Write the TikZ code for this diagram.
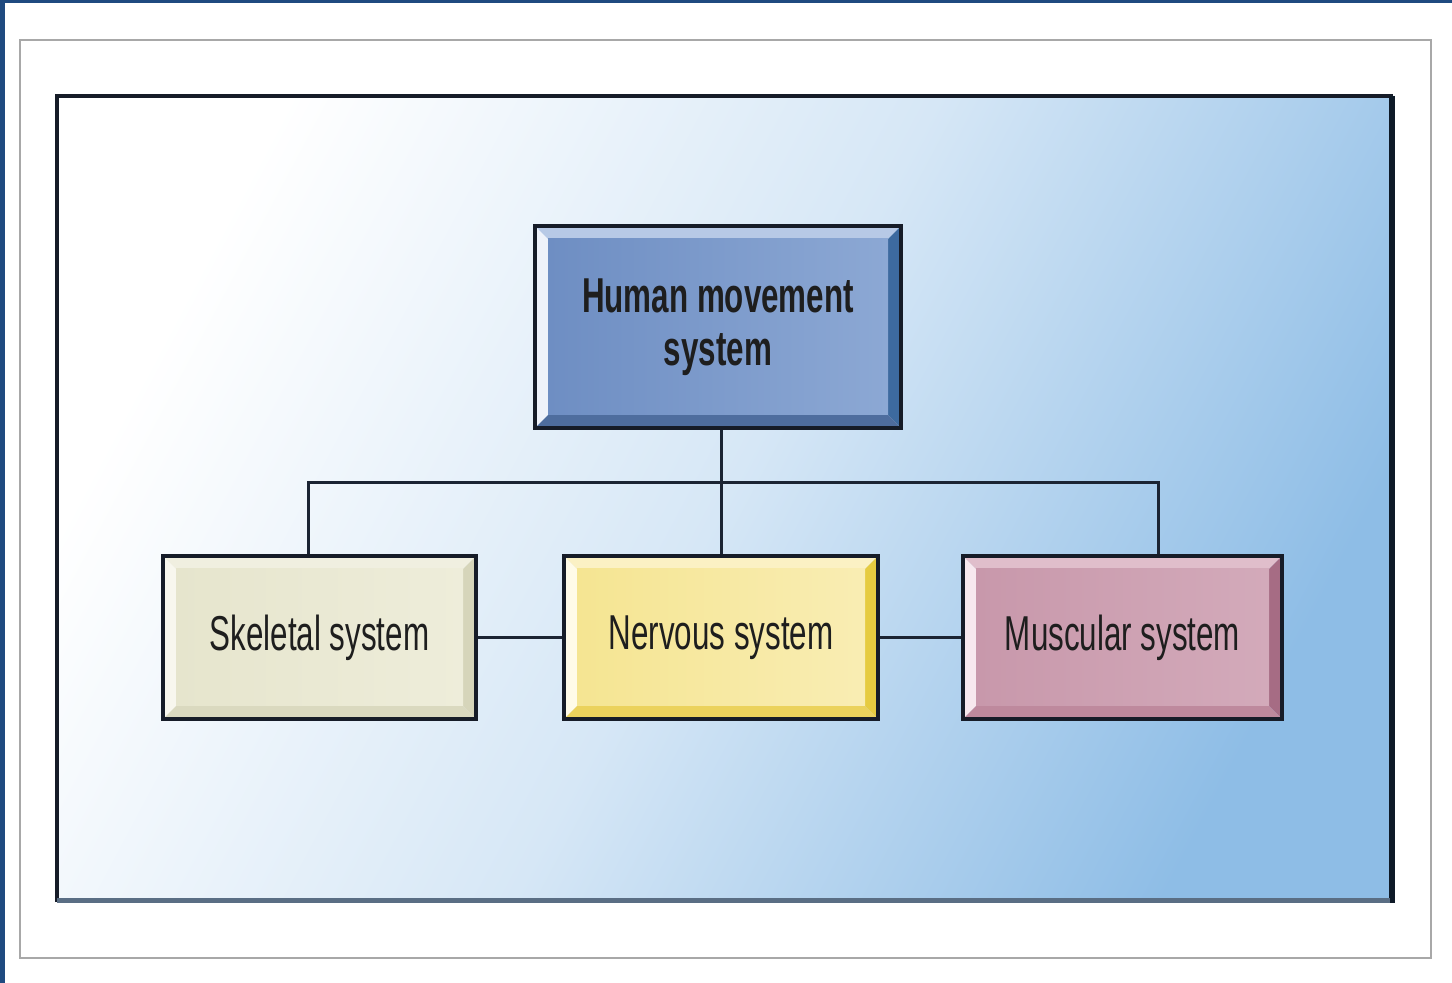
\documentclass[tikz,border=0pt]{standalone}
\usepackage{fontspec}
\usetikzlibrary{calc}
\newfontfamily\boxfont{Liberation Sans}[FakeStretch=0.64]

\definecolor{edgeblue}{HTML}{1F4A80}
\definecolor{framegray}{HTML}{A8A8A8}
\definecolor{panelmid}{HTML}{D6E7F6}
\definecolor{panelblue}{HTML}{8EBDE6}
\definecolor{panelright}{HTML}{0E1A28}
\definecolor{panelbottom}{HTML}{5A6E84}
\definecolor{boxline}{HTML}{161C28}
\definecolor{wire}{HTML}{1B2433}
\definecolor{txt}{HTML}{1E1E1E}
% human movement box
\definecolor{hmFace}{HTML}{6E8EC3}
\definecolor{hmFaceR}{HTML}{8CA8D4}
\definecolor{hmL}{HTML}{EEF2FA}
\definecolor{hmT}{HTML}{B7C9E6}
\definecolor{hmR}{HTML}{3D6A9F}
\definecolor{hmB}{HTML}{4E6D9E}
% skeletal box
\definecolor{skFace}{HTML}{E6E5CD}
\definecolor{skFaceR}{HTML}{EEEDDA}
\definecolor{skL}{HTML}{F8F7EE}
\definecolor{skT}{HTML}{F0EFE0}
\definecolor{skR}{HTML}{D6D5BA}
\definecolor{skB}{HTML}{DAD9BF}
% nervous box
\definecolor{nvFace}{HTML}{F5E592}
\definecolor{nvFaceR}{HTML}{F9EDB3}
\definecolor{nvL}{HTML}{FFFBE8}
\definecolor{nvT}{HTML}{FBF1C4}
\definecolor{nvR}{HTML}{E6CB40}
\definecolor{nvB}{HTML}{EBD25C}
% muscular box
\definecolor{muFace}{HTML}{C898AB}
\definecolor{muFaceR}{HTML}{D3AABA}
\definecolor{muL}{HTML}{F7E8EE}
\definecolor{muT}{HTML}{E0BECB}
\definecolor{muR}{HTML}{A66C84}
\definecolor{muB}{HTML}{BE899D}

\tikzset{
  wirestyle/.style={draw=wire, line width=1.5pt},
  sysbox/.style n args={6}{
    draw=boxline, line width=2pt, inner sep=0pt, align=center,
    text=txt, font=\boxfont\fontsize{24.5}{26.5}\selectfont,
    path picture={
      \path (path picture bounding box.south west) coordinate (bsw)
            (path picture bounding box.north east) coordinate (bne);
      % left bevel strip
      \fill[#3] (bsw) -- (bsw|-bne) -- ($(bsw|-bne)+(6.5pt,-6.5pt)$)
                -- ($(bsw)+(6.5pt,6.5pt)$) -- cycle;
      % top bevel strip
      \fill[#4] (bsw|-bne) -- (bne) -- ($(bne)+(-6.5pt,-6.5pt)$)
                -- ($(bsw|-bne)+(6.5pt,-6.5pt)$) -- cycle;
      % right bevel strip
      \fill[#5] (bne) -- (bne|-bsw) -- ($(bne|-bsw)+(-6.5pt,6.5pt)$)
                -- ($(bne)+(-6.5pt,-6.5pt)$) -- cycle;
      % bottom bevel strip
      \fill[#6] (bsw) -- (bne|-bsw) -- ($(bne|-bsw)+(-6.5pt,6.5pt)$)
                -- ($(bsw)+(6.5pt,6.5pt)$) -- cycle;
      % face
      \shade[left color=#1, right color=#2]
        ($(bsw)+(6.5pt,6.5pt)$) rectangle ($(bne)+(-6.5pt,-6.5pt)$);
    }
  }
}

\begin{document}
\begin{tikzpicture}[x=0.5pt, y=-0.5pt]
  \useasboundingbox (0,0) rectangle (1452,983);
  \fill[white] (0,0) rectangle (1452,983);

  % outer blue edge
  \fill[edgeblue] (0,0) rectangle (1452,3.5);
  \fill[edgeblue] (0,0) rectangle (4.5,983);

  % gray frame
  \draw[framegray, line width=0.9pt] (20,40) rectangle (1431,958);

  % shaded panel
  \shade[top color=white, bottom color=panelblue, middle color=panelmid,
         shading angle=62] (57,96) rectangle (1393,902);
  \draw[boxline, line width=1.6pt] (57,902) -- (57,96) -- (1393,96);
  \draw[panelright, line width=3pt] (1392,96) -- (1392,903);
  \draw[panelbottom, line width=2.5pt] (57,900) -- (1390,900);

  % system boxes
  \node[sysbox={hmFace}{hmFaceR}{hmL}{hmT}{hmR}{hmB},
        minimum width=183pt, minimum height=101pt, font=\boxfont\bfseries\fontsize{24.5}{26.5}\selectfont]
        (hms) at (718,327) {Human movement\\system};
  \node[sysbox={skFace}{skFaceR}{skL}{skT}{skR}{skB},
        minimum width=156.5pt, minimum height=81.5pt]
        (sk) at (319.5,637.5) {Skeletal system};
  \node[sysbox={nvFace}{nvFaceR}{nvL}{nvT}{nvR}{nvB},
        minimum width=157pt, minimum height=81.5pt]
        (nv) at (721,637.5) {Nervous system};
  \node[sysbox={muFace}{muFaceR}{muL}{muT}{muR}{muB},
        minimum width=159.5pt, minimum height=81.5pt]
        (mu) at (1122.5,637.5) {Muscular system};

  % connectors
  \coordinate (busL) at (308,483);
  \coordinate (busR) at (1158,483);
  \draw[wirestyle] (nv.north) -- (nv.north |- hms.south);
  \draw[wirestyle] (busL |- sk.north) -- (busL) -- (busR) -- (busR |- mu.north);
  \draw[wirestyle] (sk.east) -- (nv.west);
  \draw[wirestyle] (nv.east) -- (mu.west);
\end{tikzpicture}
\end{document}
